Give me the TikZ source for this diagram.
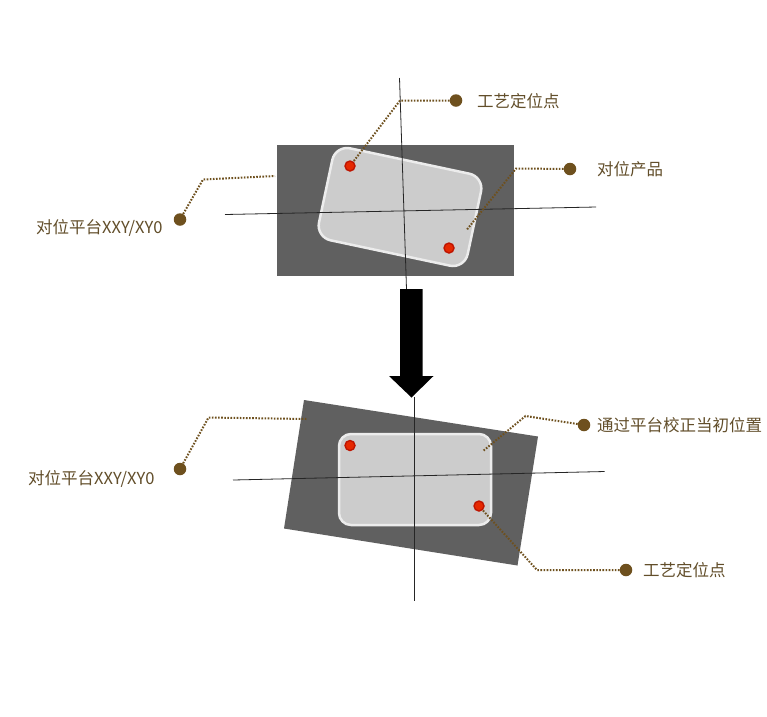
\documentclass[tikz,border=0pt]{standalone}
\usepackage{fontspec}
\newfontfamily\cjk{Noto Sans CJK SC}
\definecolor{txtc}{RGB}{98,78,42}
\definecolor{dotc}{RGB}{110,80,30}
\definecolor{platec}{RGB}{96,96,96}
\definecolor{prodc}{RGB}{204,204,204}
\definecolor{prodb}{RGB}{236,236,236}
\definecolor{markc}{RGB}{230,40,0}
\definecolor{markb}{RGB}{190,20,0}
\tikzset{
  lbl/.style={font=\cjk\fontsize{16.5}{19}\selectfont, text=txtc, inner sep=0pt, anchor=west},
  bdot/.style={circle, fill=dotc, minimum size=12.5pt, inner sep=0pt},
  rdot/.style={circle, fill=markc, draw=markb, line width=1.4pt, minimum size=10pt, inner sep=0pt},
  leader/.style={draw=dotc, line width=2pt, dash pattern=on 1.6pt off 1.5pt},
  axis/.style={draw=black!85, line width=0.8pt},
  plate/.style={fill=platec},
  prod/.style={fill=prodc, draw=prodb, line width=2.5pt},
}
\begin{document}
\begin{tikzpicture}[x=1pt,y=-1pt]
\useasboundingbox[fill=white] (0,0) rectangle (767,716);

% ---------- top ----------
\node[plate, minimum width=237pt, minimum height=131pt, inner sep=0pt] (plate1) at (395.5,210.5) {};
\node[prod, rounded corners=15pt, minimum width=152pt, minimum height=94pt, inner sep=0pt, rotate=-12] (prod1) at (400,207) {};
\node[rdot] (m1a) at (350,166) {};
\node[rdot] (m1b) at (449,248) {};
\coordinate (v1t) at (399.5,78);
\coordinate (v1b) at (406.5,289);
\coordinate (h1l) at (225,214.5);
\coordinate (h1r) at (596,207);
\draw[axis] (v1t) -- (v1b);
\draw[axis] (h1l) -- (h1r);

% callouts top
\node[bdot] (d1) at (456,100.5) {};
\node[lbl] (t1) at (477,101) {工艺定位点};
\coordinate (c1) at (400,100.5);
\draw[leader] (d1) -- (c1) -- (m1a);

\node[bdot] (d2) at (570,169) {};
\node[lbl] (t2) at (597,169) {对位产品};
\coordinate (c2) at (516,168.5);
\coordinate (e2) at (467,229.5);
\draw[leader] (d2) -- (c2) -- (e2);

\node[bdot] (d3) at (180,219.5) {};
\node[lbl] (t3) at (36,228) {对位平台XXY/XY0};
\coordinate (c3) at (203,179.5);
\coordinate (e3) at (275,176);
\draw[leader] (d3) -- (c3) -- (e3);

% ---------- arrow ----------
\coordinate (ar) at (411.5,289);
\fill[black] (400,289) -- (422.5,289) -- (422.5,376) -- (433.5,376) -- (411.5,397.5) -- (389,376) -- (400,376) -- cycle;

% ---------- bottom ----------
\coordinate (p1) at (304,400);
\coordinate (p2) at (538,436.5);
\coordinate (p3) at (517.5,565.5);
\coordinate (p4) at (284,528.5);
\fill[platec] (p1) -- (p2) -- (p3) -- (p4) -- cycle;
\node[prod, rounded corners=12pt, minimum width=152pt, minimum height=91pt, inner sep=0pt] (prod2) at (415,479.5) {};
\node[rdot] (m2a) at (350,445.5) {};
\node[rdot] (m2b) at (479,506) {};
\coordinate (v2t) at (414,397);
\coordinate (v2b) at (414,601);
\coordinate (h2l) at (233,480);
\coordinate (h2r) at (604.5,471.5);
\draw[axis] (v2t) -- (v2b);
\draw[axis] (h2l) -- (h2r);

% callouts bottom
\node[bdot] (d4) at (584,425) {};
\node[lbl] (t4) at (597,425) {通过平台校正当初位置};
\coordinate (c4) at (525.5,416);
\coordinate (e4) at (483,451);
\draw[leader] (d4) -- (c4) -- (e4);

\node[bdot] (d5) at (626,570) {};
\node[lbl] (t5) at (643,570) {工艺定位点};
\coordinate (c5) at (537,570);
\draw[leader] (d5) -- (c5) -- (m2b);

\node[bdot] (d6) at (180,469) {};
\node[lbl] (t6) at (28,478.5) {对位平台XXY/XY0};
\coordinate (c6) at (208.5,417.5);
\coordinate (e6) at (307,419);
\draw[leader] (d6) -- (c6) -- (e6);
\end{tikzpicture}
\end{document}
